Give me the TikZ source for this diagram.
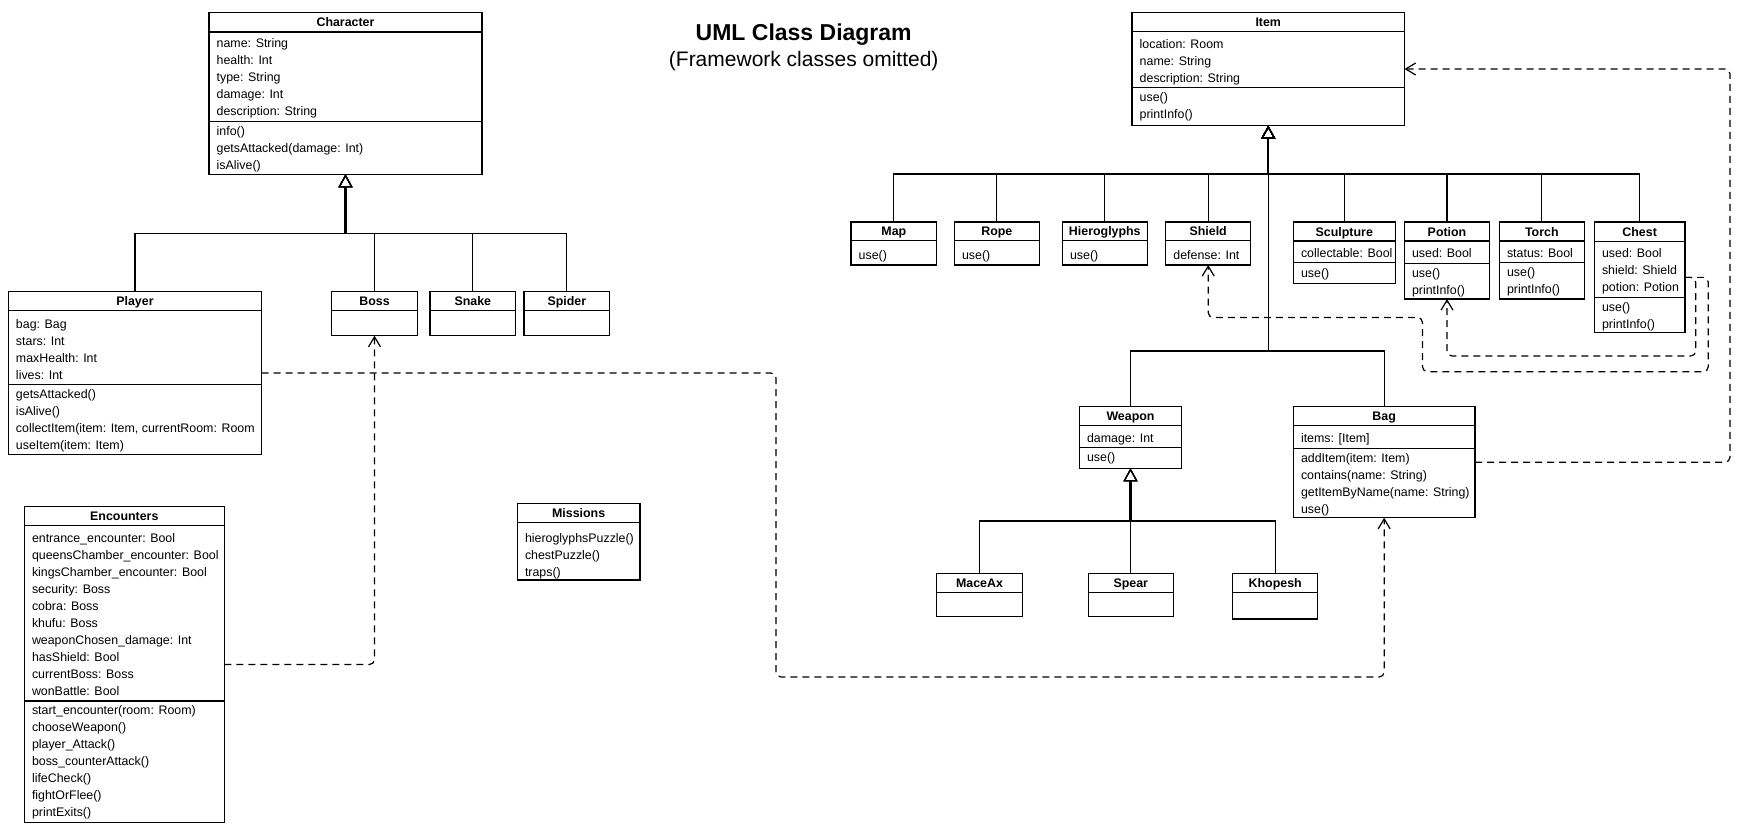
\documentclass[tikz,border=0pt]{standalone}
\usepackage{fontspec}
\setmainfont{Liberation Sans}
\usetikzlibrary{arrows.meta,fit,calc}

\newcommand{\umlclass}[7]{%
  \node[clsbox, fit={(#2,#3) (#4,#5)}] (#1) {};
  \draw[clsline] (#2,#6) -- (#4,#6);
  \node[clstitle] (#1-t) at ({(#2+#4)/2},{(#3+#6)/2+4.5}) {#7};
}
\newcommand{\umlsep}[3]{\draw[clsline] (#1,#3) -- (#2,#3);}
\newcommand{\umlrows}[4]{\node[clsrows] (#1) at ({#2+7.5},{#3-7.4}) {\strut #4};}

\begin{document}
\begin{tikzpicture}[x=1pt,y=-1pt,
  clsbox/.style={draw=black, line width=1.2pt, inner sep=0pt, outer sep=0pt, fill=white},
  clsline/.style={draw=black, line width=1.2pt},
  clstitle/.style={anchor=base, inner sep=0pt, font=\bfseries\fontsize{12.4}{15}\selectfont},
  clsrows/.style={anchor=north west, align=left, inner sep=0pt, font=\fontsize{12.4}{17}\selectfont},
  gen/.style={draw=black, line width=1.2pt, -{Triangle[open,length=13pt,width=14pt]}},
  stem/.style={draw=black, line width=2.2pt},
  dep/.style={draw=black, line width=1.2pt, dash pattern=on 7pt off 5pt, rounded corners=5pt, -{Straight Barb[length=10pt,width=12pt]}}
]
\fill[white] (0,0) rectangle (1748,828);
\useasboundingbox (0,0) rectangle (1748,828);

% title
\node[anchor=base, inner sep=0pt, font=\bfseries\fontsize{23}{28}\selectfont] (title) at (803.7,40) {UML Class Diagram};
\node[anchor=base, inner sep=0pt, font=\fontsize{21}{25}\selectfont] (subtitle) at (803.7,66.7) {(Framework classes omitted)};

% ---------- left classes ----------
\umlclass{character}{209}{12.3}{482}{174.3}{32}{Character}
\umlsep{209}{482}{121.7}
\umlrows{character-a}{209}{43}{name: String\\health: Int\\type: String\\damage: Int\\description: String}
\umlrows{character-m}{209}{130.7}{info()\\getsAttacked(damage: Int)\\isAlive()}

\umlclass{player}{8.3}{291.7}{261.7}{454.3}{310.7}{Player}
\umlsep{8.3}{261.7}{384.3}
\umlrows{player-a}{8.3}{324}{bag: Bag\\stars: Int\\maxHealth: Int\\lives: Int}
\umlrows{player-m}{8.3}{394}{getsAttacked()\\isAlive()\\collectItem(item: Item, currentRoom: Room\\useItem(item: Item)}

\umlclass{boss}{331.7}{291.7}{417.3}{335.7}{310.7}{Boss}
\umlclass{snake}{430}{291.7}{515.6}{335.7}{310.7}{Snake}
\umlclass{spider}{524}{291.7}{609.6}{335.7}{310.7}{Spider}

\umlclass{encounters}{24.3}{506.7}{224.3}{822.3}{525.7}{Encounters}
\umlsep{24.3}{224.3}{701}
\umlrows{encounters-a}{24.3}{537.7}{entrance\_encounter: Bool\\queensChamber\_encounter: Bool\\kingsChamber\_encounter: Bool\\security: Boss\\cobra: Boss\\khufu: Boss\\weaponChosen\_damage: Int\\hasShield: Bool\\currentBoss: Boss\\wonBattle: Bool}
\umlrows{encounters-m}{24.3}{710}{start\_encounter(room: Room)\\chooseWeapon()\\player\_Attack()\\boss\_counterAttack()\\lifeCheck()\\fightOrFlee()\\printExits()}

\umlclass{missions}{517.3}{503.3}{640}{580}{522.3}{Missions}
\umlrows{missions-m}{517.3}{537.7}{hieroglyphsPuzzle()\\chestPuzzle()\\traps()}

% ---------- right classes ----------
\umlclass{item}{1132}{12.3}{1404.5}{125.7}{31.7}{Item}
\umlsep{1132}{1404.5}{87.7}
\umlrows{item-a}{1132}{43.3}{location: Room\\name: String\\description: String}
\umlrows{item-m}{1132}{96.7}{use()\\printInfo()}

\umlclass{map}{851}{222}{936.7}{265}{240.7}{Map}
\umlrows{map-m}{851}{254.3}{use()}
\umlclass{rope}{954.3}{222}{1039.3}{265}{240.7}{Rope}
\umlrows{rope-m}{954.3}{254.3}{use()}
\umlclass{hiero}{1062.3}{222}{1147.3}{265}{240.7}{Hieroglyphs}
\umlrows{hiero-m}{1062.3}{254.3}{use()}
\umlclass{shield}{1165.7}{222}{1250.7}{265}{240.7}{Shield}
\umlrows{shield-a}{1165.7}{254.3}{defense: Int}

\umlclass{sculpture}{1293.3}{222}{1395.3}{283.3}{241}{Sculpture}
\umlsep{1293.3}{1395.3}{262.7}
\umlrows{sculpture-a}{1293.3}{252.7}{collectable: Bool}
\umlrows{sculpture-m}{1293.3}{272.7}{use()}

\umlclass{potion}{1404.3}{222}{1489.7}{299}{241}{Potion}
\umlsep{1404.3}{1489.7}{263.3}
\umlrows{potion-a}{1404.3}{252.7}{used: Bool}
\umlrows{potion-m}{1404.3}{272.7}{use()\\printInfo()}

\umlclass{torch}{1499.3}{222}{1584.3}{299}{241}{Torch}
\umlsep{1499.3}{1584.3}{262.7}
\umlrows{torch-a}{1499.3}{252.7}{status: Bool}
\umlrows{torch-m}{1499.3}{272}{use()\\printInfo()}

\umlclass{chest}{1594.3}{222}{1685}{332.7}{241.7}{Chest}
\umlsep{1594.3}{1685}{297.3}
\umlrows{chest-a}{1594.3}{252.7}{used: Bool\\shield: Shield\\potion: Potion}
\umlrows{chest-m}{1594.3}{306.3}{use()\\printInfo()}

\umlclass{weapon}{1079.3}{406.7}{1181.7}{468.3}{425.7}{Weapon}
\umlsep{1079.3}{1181.7}{447.7}
\umlrows{weapon-a}{1079.3}{437.7}{damage: Int}
\umlrows{weapon-m}{1079.3}{456.7}{use()}

\umlclass{bag}{1293.3}{406.7}{1475}{517.7}{425.7}{Bag}
\umlsep{1293.3}{1475}{448.3}
\umlrows{bag-a}{1293.3}{437.7}{items: [Item]}
\umlrows{bag-m}{1293.3}{457.3}{addItem(item: Item)\\contains(name: String)\\getItemByName(name: String)\\use()}

\umlclass{maceax}{936.7}{573.3}{1022.3}{616.7}{592.7}{MaceAx}
\umlclass{spear}{1088.3}{573.3}{1173.3}{616.7}{592.7}{Spear}
\umlclass{khopesh}{1232.7}{573.3}{1317.7}{619}{592.3}{Khopesh}

% ---------- generalization ----------
\coordinate (charbus) at (character.south |- 0,233.3);
\foreach \c in {player,boss,snake,spider}{\draw[gen] (\c.north) |- (charbus) -- (character.south);}
\draw[stem] (charbus) -- ($(character.south)+(0,13)$);

\coordinate (itembus) at (item.south |- 0,174);
\foreach \c in {map,rope,hiero,shield,sculpture,potion,torch,chest}{\draw[gen] (\c.north) |- (itembus) -- (item.south);}
\coordinate (wbbus) at (item.south |- 0,351);
\foreach \c in {weapon,bag}{\draw[gen] (\c.north) |- (wbbus) -- (item.south);}
\draw[stem] (itembus) -- ($(item.south)+(0,13)$);

\coordinate (weapbus) at (weapon.south |- 0,521);
\foreach \c in {maceax,spear,khopesh}{\draw[gen] (\c.north) |- (weapbus) -- (weapon.south);}
\draw[stem] (weapbus) -- ($(weapon.south)+(0,13)$);

% ---------- dependencies ----------
\coordinate (pb) at (776,677);
\draw[dep] (player.east) -| (pb) -| (bag.south);
\draw[dep] (encounters.east) -| (boss.south);
\coordinate (bi) at (1730,300);
\draw[dep] (bag.east) -| (bi) |- (item.east);
\coordinate (cp) at (1695.7,356);
\draw[dep] (chest.east) -| (cp) -| (potion.south);
\coordinate (cs1) at (1708.3,371.7);
\coordinate (cs2) at (1422.5,317.5);
\draw[dep] (chest.east) -| (cs1) -| (cs2) -| (shield.south);
\end{tikzpicture}
\end{document}
